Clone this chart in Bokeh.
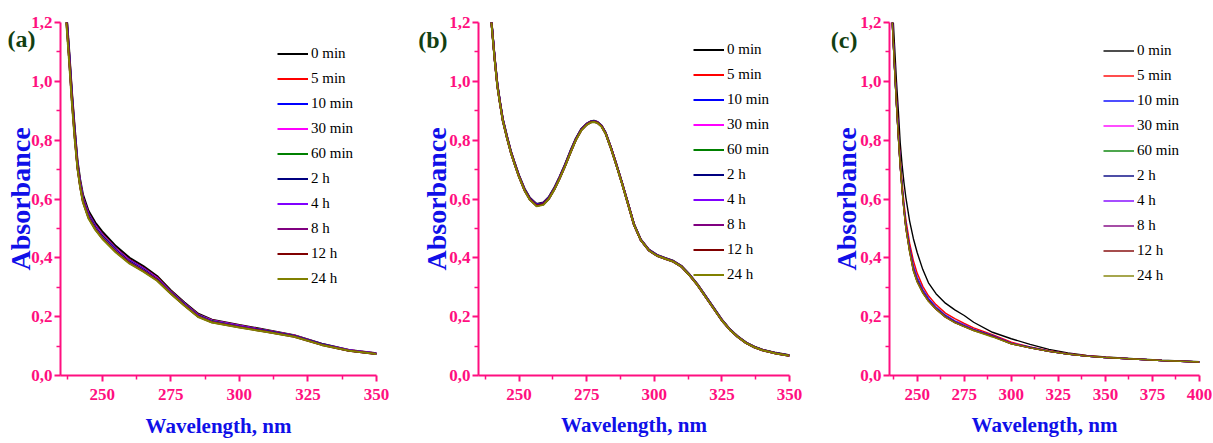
from bokeh.plotting import figure
from bokeh.layouts import row
from bokeh.models import (Range1d, FixedTicker, CustomJSTickFormatter, Legend,
                          LegendItem, LinearAxis)
from bokeh.embed import file_html
from bokeh.resources import INLINE

# ---------------- data ----------------
series_labels = ["0 min", "5 min", "10 min", "30 min", "60 min",
                 "2 h", "4 h", "8 h", "12 h", "24 h"]
series_colors = ["#000000", "#ff0000", "#0000ff", "#ff00ff", "#008000",
                 "#000080", "#8000ff", "#800080", "#800000", "#808000"]

y_ticks = [0.0, 0.2, 0.4, 0.6, 0.8, 1.0, 1.2]
y_minor = [0.1, 0.3, 0.5, 0.7, 0.9, 1.1]

# panel (a)
a_wl = [236, 237, 238, 239, 240, 241, 242, 243, 245, 247.5, 250, 255, 260, 265,
        270, 275, 280, 285, 290, 300, 310, 320, 330, 340, 350]
a_0min = [1.34, 1.23, 1.10, 0.96, 0.84, 0.73, 0.665, 0.615, 0.560, 0.520, 0.490, 0.440, 0.400, 0.372, 0.338, 0.290, 0.248, 0.210, 0.190, 0.172, 0.155, 0.137, 0.108, 0.087, 0.076]
a_5min = [1.33, 1.22, 1.09, 0.95, 0.83, 0.72, 0.655, 0.605, 0.551, 0.511, 0.481, 0.432, 0.393, 0.366, 0.333, 0.286, 0.245, 0.207, 0.188, 0.170, 0.153, 0.136, 0.107, 0.086, 0.075]
a_10min = [1.33, 1.22, 1.09, 0.95, 0.83, 0.72, 0.653, 0.603, 0.549, 0.509, 0.479, 0.430, 0.391, 0.364, 0.331, 0.285, 0.244, 0.206, 0.187, 0.169, 0.152, 0.135, 0.107, 0.086, 0.075]
a_30min = [1.32, 1.21, 1.08, 0.94, 0.82, 0.715, 0.650, 0.600, 0.546, 0.506, 0.476, 0.428, 0.389, 0.362, 0.330, 0.284, 0.243, 0.205, 0.186, 0.168, 0.152, 0.135, 0.106, 0.086, 0.075]
a_60min = [1.32, 1.21, 1.08, 0.94, 0.82, 0.713, 0.648, 0.598, 0.544, 0.504, 0.474, 0.426, 0.387, 0.360, 0.328, 0.283, 0.242, 0.204, 0.185, 0.167, 0.151, 0.134, 0.106, 0.085, 0.074]
a_2h = [1.32, 1.21, 1.08, 0.94, 0.82, 0.711, 0.646, 0.596, 0.542, 0.502, 0.472, 0.425, 0.386, 0.359, 0.327, 0.282, 0.241, 0.203, 0.184, 0.167, 0.151, 0.134, 0.106, 0.085, 0.074]
a_4h = [1.31, 1.20, 1.07, 0.93, 0.81, 0.709, 0.644, 0.594, 0.540, 0.500, 0.470, 0.423, 0.384, 0.357, 0.326, 0.281, 0.240, 0.202, 0.183, 0.166, 0.150, 0.133, 0.105, 0.085, 0.074]
a_8h = [1.31, 1.20, 1.07, 0.93, 0.81, 0.707, 0.642, 0.592, 0.538, 0.498, 0.468, 0.421, 0.383, 0.356, 0.325, 0.280, 0.239, 0.201, 0.182, 0.165, 0.149, 0.133, 0.105, 0.084, 0.073]
a_12h = [1.31, 1.20, 1.07, 0.93, 0.81, 0.705, 0.640, 0.590, 0.536, 0.497, 0.467, 0.420, 0.382, 0.355, 0.324, 0.279, 0.238, 0.200, 0.181, 0.164, 0.149, 0.132, 0.104, 0.084, 0.073]
a_24h = [1.30, 1.19, 1.06, 0.92, 0.80, 0.703, 0.638, 0.588, 0.534, 0.495, 0.465, 0.418, 0.380, 0.353, 0.322, 0.278, 0.237, 0.199, 0.180, 0.163, 0.148, 0.132, 0.104, 0.084, 0.073]
a_x_ticks = [250, 275, 300, 325, 350]
a_x_minor = [237.5, 262.5, 287.5, 312.5, 337.5]

# panel (b)
b_wl = [238, 239, 240, 241, 242, 243, 244, 245.5, 247, 248.5, 250, 252, 254, 256.5,
        259, 261, 263, 265, 267, 269, 271, 273, 275, 276.5, 277.7, 279, 280.5, 282,
        284, 286, 288, 290, 292.5, 295, 298, 301, 304, 307, 310, 313, 316, 319,
        322, 325, 328, 331, 334, 337, 340, 345, 350]
b_0min = [1.40, 1.29, 1.185, 1.08, 0.99, 0.928, 0.872, 0.815, 0.762, 0.720, 0.680, 0.636, 0.604, 0.583, 0.588, 0.607, 0.638, 0.676, 0.718, 0.764, 0.806, 0.838, 0.856, 0.864, 0.866, 0.862, 0.850, 0.826, 0.775, 0.718, 0.658, 0.595, 0.515, 0.463, 0.428, 0.410, 0.400, 0.390, 0.373, 0.344, 0.310, 0.270, 0.230, 0.190, 0.157, 0.132, 0.112, 0.098, 0.088, 0.077, 0.069]
b_5min = [1.40, 1.29, 1.183, 1.078, 0.988, 0.926, 0.870, 0.813, 0.760, 0.718, 0.678, 0.634, 0.602, 0.581, 0.586, 0.605, 0.636, 0.674, 0.716, 0.762, 0.804, 0.837, 0.855, 0.863, 0.865, 0.861, 0.849, 0.825, 0.774, 0.717, 0.657, 0.594, 0.514, 0.462, 0.427, 0.409, 0.399, 0.389, 0.372, 0.343, 0.309, 0.269, 0.229, 0.189, 0.156, 0.131, 0.111, 0.097, 0.087, 0.076, 0.068]
b_10min = [1.40, 1.29, 1.183, 1.078, 0.988, 0.926, 0.870, 0.813, 0.760, 0.718, 0.678, 0.634, 0.602, 0.581, 0.586, 0.605, 0.636, 0.674, 0.716, 0.762, 0.804, 0.837, 0.855, 0.863, 0.865, 0.861, 0.849, 0.825, 0.774, 0.717, 0.657, 0.594, 0.514, 0.462, 0.427, 0.409, 0.399, 0.389, 0.372, 0.343, 0.309, 0.269, 0.229, 0.189, 0.156, 0.131, 0.111, 0.097, 0.087, 0.076, 0.068]
b_30min = [1.395, 1.285, 1.180, 1.075, 0.985, 0.924, 0.868, 0.811, 0.759, 0.717, 0.677, 0.632, 0.600, 0.579, 0.584, 0.603, 0.634, 0.672, 0.714, 0.760, 0.803, 0.836, 0.854, 0.862, 0.864, 0.860, 0.848, 0.824, 0.773, 0.716, 0.656, 0.593, 0.513, 0.461, 0.426, 0.408, 0.398, 0.388, 0.371, 0.342, 0.308, 0.268, 0.228, 0.188, 0.156, 0.131, 0.111, 0.097, 0.087, 0.076, 0.068]
b_60min = [1.395, 1.285, 1.180, 1.075, 0.985, 0.924, 0.868, 0.811, 0.759, 0.717, 0.677, 0.632, 0.600, 0.579, 0.584, 0.603, 0.634, 0.672, 0.714, 0.760, 0.803, 0.836, 0.854, 0.862, 0.864, 0.860, 0.848, 0.824, 0.773, 0.716, 0.656, 0.593, 0.513, 0.461, 0.426, 0.408, 0.398, 0.388, 0.371, 0.342, 0.308, 0.268, 0.228, 0.188, 0.156, 0.131, 0.111, 0.097, 0.087, 0.076, 0.068]
b_2h = [1.395, 1.285, 1.180, 1.075, 0.985, 0.924, 0.868, 0.811, 0.759, 0.717, 0.677, 0.632, 0.600, 0.579, 0.584, 0.603, 0.634, 0.672, 0.714, 0.760, 0.803, 0.836, 0.854, 0.862, 0.864, 0.860, 0.848, 0.824, 0.773, 0.716, 0.656, 0.593, 0.513, 0.461, 0.426, 0.408, 0.398, 0.388, 0.371, 0.342, 0.308, 0.268, 0.228, 0.188, 0.156, 0.131, 0.111, 0.097, 0.087, 0.076, 0.068]
b_4h = [1.39, 1.28, 1.178, 1.072, 0.982, 0.922, 0.866, 0.809, 0.757, 0.715, 0.675, 0.630, 0.598, 0.577, 0.582, 0.601, 0.632, 0.670, 0.712, 0.758, 0.801, 0.834, 0.853, 0.861, 0.863, 0.859, 0.847, 0.823, 0.772, 0.715, 0.655, 0.592, 0.512, 0.460, 0.425, 0.407, 0.397, 0.387, 0.370, 0.341, 0.307, 0.267, 0.227, 0.187, 0.155, 0.130, 0.110, 0.096, 0.086, 0.075, 0.067]
b_8h = [1.39, 1.28, 1.178, 1.072, 0.982, 0.922, 0.866, 0.809, 0.757, 0.715, 0.675, 0.630, 0.598, 0.577, 0.582, 0.601, 0.632, 0.670, 0.712, 0.758, 0.801, 0.834, 0.853, 0.861, 0.863, 0.859, 0.847, 0.823, 0.772, 0.715, 0.655, 0.592, 0.512, 0.460, 0.425, 0.407, 0.397, 0.387, 0.370, 0.341, 0.307, 0.267, 0.227, 0.187, 0.155, 0.130, 0.110, 0.096, 0.086, 0.075, 0.067]
b_12h = [1.39, 1.28, 1.178, 1.072, 0.982, 0.922, 0.866, 0.809, 0.757, 0.715, 0.675, 0.630, 0.598, 0.577, 0.582, 0.601, 0.632, 0.670, 0.712, 0.758, 0.801, 0.834, 0.853, 0.861, 0.863, 0.859, 0.847, 0.823, 0.772, 0.715, 0.655, 0.592, 0.512, 0.460, 0.425, 0.407, 0.397, 0.387, 0.370, 0.341, 0.307, 0.267, 0.227, 0.187, 0.155, 0.130, 0.110, 0.096, 0.086, 0.075, 0.067]
b_24h = [1.39, 1.28, 1.175, 1.07, 0.98, 0.920, 0.865, 0.808, 0.756, 0.714, 0.674, 0.629, 0.597, 0.575, 0.580, 0.600, 0.631, 0.669, 0.711, 0.757, 0.800, 0.833, 0.852, 0.860, 0.862, 0.858, 0.846, 0.822, 0.771, 0.714, 0.654, 0.591, 0.512, 0.460, 0.425, 0.407, 0.397, 0.387, 0.370, 0.341, 0.307, 0.267, 0.227, 0.187, 0.155, 0.130, 0.110, 0.096, 0.086, 0.075, 0.067]
b_x_ticks = [250, 275, 300, 325, 350]
b_x_minor = [237.5, 262.5, 287.5, 312.5, 337.5]

# panel (c)
c_wl = [236, 237, 238, 239, 240, 241, 242, 243, 244, 246, 248, 250, 253, 256, 260,
        265, 270, 275, 280, 290, 300, 310, 320, 330, 340, 350, 365, 380, 400]
c_0min = [1.36, 1.24, 1.12, 1.00, 0.90, 0.79, 0.715, 0.655, 0.605, 0.525, 0.465, 0.418, 0.360, 0.315, 0.278, 0.246, 0.223, 0.204, 0.181, 0.147, 0.125, 0.106, 0.089, 0.077, 0.068, 0.063, 0.057, 0.052, 0.047]
c_5min = [1.32, 1.19, 1.06, 0.945, 0.835, 0.735, 0.655, 0.585, 0.530, 0.450, 0.390, 0.348, 0.303, 0.271, 0.241, 0.212, 0.193, 0.177, 0.162, 0.139, 0.113, 0.097, 0.084, 0.074, 0.067, 0.062, 0.056, 0.051, 0.046]
c_10min = [1.31, 1.18, 1.05, 0.932, 0.823, 0.722, 0.642, 0.573, 0.515, 0.435, 0.372, 0.333, 0.292, 0.262, 0.233, 0.205, 0.186, 0.172, 0.157, 0.136, 0.110, 0.096, 0.083, 0.073, 0.066, 0.061, 0.056, 0.051, 0.046]
c_30min = [1.305, 1.175, 1.048, 0.928, 0.819, 0.719, 0.639, 0.569, 0.510, 0.431, 0.367, 0.328, 0.288, 0.258, 0.230, 0.203, 0.184, 0.170, 0.156, 0.135, 0.110, 0.095, 0.083, 0.073, 0.066, 0.061, 0.056, 0.051, 0.046]
c_60min = [1.304, 1.174, 1.046, 0.926, 0.817, 0.717, 0.637, 0.567, 0.508, 0.429, 0.364, 0.326, 0.286, 0.257, 0.229, 0.202, 0.183, 0.169, 0.155, 0.135, 0.109, 0.095, 0.083, 0.073, 0.066, 0.061, 0.056, 0.051, 0.046]
c_2h = [1.303, 1.173, 1.045, 0.925, 0.815, 0.715, 0.635, 0.565, 0.506, 0.427, 0.362, 0.324, 0.284, 0.256, 0.228, 0.201, 0.182, 0.168, 0.155, 0.134, 0.109, 0.095, 0.082, 0.073, 0.066, 0.061, 0.056, 0.051, 0.046]
c_4h = [1.302, 1.172, 1.043, 0.923, 0.813, 0.713, 0.633, 0.563, 0.504, 0.425, 0.360, 0.322, 0.283, 0.255, 0.227, 0.200, 0.181, 0.167, 0.154, 0.134, 0.109, 0.094, 0.082, 0.073, 0.066, 0.061, 0.056, 0.051, 0.046]
c_8h = [1.301, 1.171, 1.042, 0.922, 0.812, 0.712, 0.632, 0.562, 0.502, 0.423, 0.358, 0.320, 0.282, 0.254, 0.226, 0.199, 0.181, 0.167, 0.154, 0.133, 0.108, 0.094, 0.082, 0.073, 0.066, 0.061, 0.056, 0.051, 0.046]
c_12h = [1.300, 1.170, 1.041, 0.921, 0.811, 0.711, 0.631, 0.561, 0.501, 0.421, 0.356, 0.319, 0.281, 0.253, 0.225, 0.198, 0.180, 0.166, 0.153, 0.133, 0.108, 0.094, 0.082, 0.073, 0.066, 0.061, 0.056, 0.051, 0.046]
c_24h = [1.300, 1.170, 1.040, 0.920, 0.810, 0.710, 0.630, 0.560, 0.500, 0.420, 0.355, 0.318, 0.280, 0.252, 0.225, 0.198, 0.180, 0.166, 0.153, 0.131, 0.108, 0.094, 0.082, 0.073, 0.066, 0.061, 0.056, 0.051, 0.046]
c_x_ticks = [250, 275, 300, 325, 350, 375, 400]
c_x_minor = [237.5, 262.5, 287.5, 312.5, 337.5, 362.5, 387.5]

# ---------------- styling ----------------
PINK = "#ff0f80"
BLUE = "#1010e8"
GREEN = "#123f12"
SERIF = "Liberation Serif"
H = 443


def make_panel(tag, wl, series, x_lo, x_hi, x_ticks, x_minor, width, borders,
               lw, legend_xy, tag_y, tag_standoff, ylab_standoff, xlab_standoff):
    left, right, top, bottom = borders
    p = figure(width=width, height=H, x_range=Range1d(x_lo, x_hi),
               y_range=Range1d(0, 1.2), output_backend="svg",
               toolbar_location=None, min_border_left=left,
               min_border_right=right, min_border_top=top,
               min_border_bottom=bottom)
    p.xgrid.visible = False
    p.ygrid.visible = False
    p.outline_line_color = None
    p.background_fill_color = "white"
    p.border_fill_color = "white"

    items = []
    for lab, col, ys in zip(series_labels, series_colors, series):
        r = p.line(wl, ys, line_color=col, line_width=lw)
        items.append(LegendItem(label=lab, renderers=[r]))

    xax = p.below[0]
    yax = p.left[0]
    xax.ticker = FixedTicker(ticks=x_ticks, minor_ticks=x_minor)
    yax.ticker = FixedTicker(ticks=y_ticks, minor_ticks=y_minor)
    yax.formatter = CustomJSTickFormatter(
        code="return tick.toFixed(1).replace('.', ',');")
    for ax in (xax, yax):
        ax.axis_line_color = PINK
        ax.axis_line_width = 2
        ax.major_tick_line_color = PINK
        ax.major_tick_line_width = 2
        ax.minor_tick_line_color = PINK
        ax.minor_tick_line_width = 1.5
        ax.major_tick_in = 0
        ax.major_tick_out = 6
        ax.minor_tick_in = 0
        ax.minor_tick_out = 4
        ax.major_label_text_color = PINK
        ax.major_label_text_font = SERIF
        ax.major_label_text_font_style = "bold"
        ax.major_label_text_font_size = "17px"
    xax.axis_label = "Wavelength, nm"
    xax.axis_label_text_color = BLUE
    xax.axis_label_text_font = SERIF
    xax.axis_label_text_font_style = "bold"
    xax.axis_label_text_font_size = "21px"
    xax.major_label_standoff = 7
    xax.axis_label_standoff = xlab_standoff
    yax.major_label_standoff = 2

    # outer left axis: carries the panel tag "(a)" and the "Absorbance" title
    tag_axis = LinearAxis(
        ticker=FixedTicker(ticks=[tag_y], minor_ticks=[]),
        formatter=CustomJSTickFormatter(code='return "%s";' % tag),
        axis_line_color=None, major_tick_line_color=None,
        minor_tick_line_color=None, major_tick_in=0, major_tick_out=0,
        minor_tick_in=0, minor_tick_out=0,
        major_label_standoff=tag_standoff,
        major_label_text_color=GREEN, major_label_text_font=SERIF,
        major_label_text_font_style="bold", major_label_text_font_size="24px",
        axis_label="Absorbance", axis_label_standoff=ylab_standoff,
        axis_label_text_color=BLUE, axis_label_text_font=SERIF,
        axis_label_text_font_style="bold", axis_label_text_font_size="28px")
    p.add_layout(tag_axis, "left")

    legend = Legend(items=items, location=legend_xy, margin=0, padding=0,
                    spacing=4, label_height=21, glyph_height=21,
                    glyph_width=31, label_standoff=3,
                    label_text_font=SERIF, label_text_font_size="15px",
                    label_text_color="#000000",
                    border_line_color=None, background_fill_alpha=0)
    p.add_layout(legend)
    return p


pa = make_panel("(a)", a_wl,
                [a_0min, a_5min, a_10min, a_30min, a_60min, a_2h, a_4h, a_8h, a_12h, a_24h],
                234.8, 350, a_x_ticks, a_x_minor, 410, (60, 34, 22, 68),
                2, (217, 86), 1.144, -7, -31, 11)
pb = make_panel("(b)", b_wl,
                [b_0min, b_5min, b_10min, b_30min, b_60min, b_2h, b_4h, b_8h, b_12h, b_24h],
                235, 350, b_x_ticks, b_x_minor, 410, (68, 31, 21, 66),
                2, (215, 90), 1.140, -1, -37, 10)
pc = make_panel("(c)", c_wl,
                [c_0min, c_5min, c_10min, c_30min, c_60min, c_2h, c_4h, c_8h, c_12h, c_24h],
                235.3, 400, c_x_ticks, c_x_minor, 393, (69, 14, 21, 67),
                1.4, (214, 89), 1.140, 0, -34, 10)

layout = row(pa, pb, pc)
open("out.html", "w").write(file_html(layout, INLINE))
